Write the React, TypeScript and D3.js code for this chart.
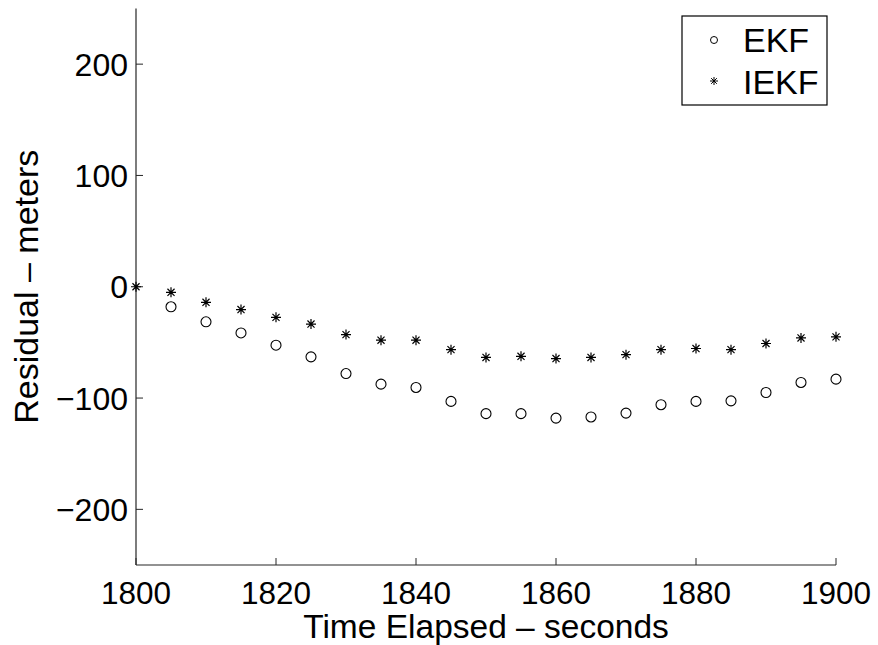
import React from "react";
import * as d3 from "d3";

const timesEKF = [1805, 1810, 1815, 1820, 1825, 1830, 1835, 1840, 1845, 1850, 1855, 1860, 1865, 1870, 1875, 1880, 1885, 1890, 1895, 1900];
const ekf = [-18, -31.5, -41.5, -52.5, -63, -78, -87.5, -90.5, -103, -114, -114, -118, -117, -113.5, -106, -103, -102.5, -95, -86, -83];
const timesIEKF = [1800, 1805, 1810, 1815, 1820, 1825, 1830, 1835, 1840, 1845, 1850, 1855, 1860, 1865, 1870, 1875, 1880, 1885, 1890, 1895, 1900];
const iekf = [0, -5, -14, -20.5, -27.5, -33.5, -43, -48, -48, -56.5, -63.5, -62.5, -64.5, -63.5, -61, -56.5, -55.5, -56.5, -51, -46, -45];
const xTicks = [1800, 1820, 1840, 1860, 1880, 1900];
const yTicks = [-200, -100, 0, 100, 200];
const legendLabels = ["EKF", "IEKF"];

const W = 878;
const H = 645;
const FONT = "'Liberation Sans', Arial, Helvetica, sans-serif";

const starPath = (s: number) => {
  const d = s * 0.7071;
  return `M${-s},0H${s}M0,${-s}V${s}M${-d},${-d}L${d},${d}M${-d},${d}L${d},${-d}`;
};

export default function App() {
  const x = d3.scaleLinear().domain([1800, 1900]).range([136, 836]);
  const y = d3.scaleLinear().domain([-250, 250]).range([565, 8.5]);
  const tickLen = 7;
  const axisColor = "#262626";

  return (
    <svg
      width={W}
      height={H}
      style={{ position: "absolute", left: 0, top: 0, background: "#fff" }}
      fontFamily={FONT}
    >
      <rect x={0} y={0} width={W} height={H} fill="#fff" />
      {/* axes */}
      <line x1={x(1800)} x2={x(1900)} y1={y(-250)} y2={y(-250)} stroke={axisColor} strokeWidth={1.2} />
      <line x1={x(1800)} x2={x(1800)} y1={y(-250)} y2={y(250)} stroke={axisColor} strokeWidth={1.2} />
      {xTicks.map((t) => (
        <g key={"xt" + t}>
          <line x1={x(t)} x2={x(t)} y1={y(-250)} y2={y(-250) - tickLen} stroke={axisColor} strokeWidth={1} />
          <text x={x(t)} y={604} textAnchor="middle" fontSize={31.5} fill="#000">
            {t}
          </text>
        </g>
      ))}
      {yTicks.map((t) => (
        <g key={"yt" + t}>
          <line x1={x(1800)} x2={x(1800) + tickLen} y1={y(t)} y2={y(t)} stroke={axisColor} strokeWidth={1} />
          <text x={128} y={y(t)} dy="0.36em" textAnchor="end" fontSize={32} fill="#000">
            {t < 0 ? "\u2212" + Math.abs(t) : String(t)}
          </text>
        </g>
      ))}
      {/* axis labels */}
      <text x={(x(1800) + x(1900)) / 2} y={637.5} textAnchor="middle" fontSize={33.5} fill="#000">
        Time Elapsed – seconds
      </text>
      <text
        transform={`translate(38,${(y(-250) + y(250)) / 2}) rotate(-90)`}
        textAnchor="middle"
        fontSize={34}
        fill="#000"
      >
        Residual – meters
      </text>
      {/* data */}
      {timesEKF.map((t, i) => (
        <circle key={"e" + i} cx={x(t)} cy={y(ekf[i])} r={5} fill="none" stroke="#000" strokeWidth={1.1} />
      ))}
      {timesIEKF.map((t, i) => (
        <path
          key={"i" + i}
          d={starPath(5)}
          transform={`translate(${x(t)},${y(iekf[i])})`}
          fill="none"
          stroke="#000"
          strokeWidth={1.2}
        />
      ))}
      {/* legend */}
      <rect x={682} y={16} width={145} height={89} fill="#fff" stroke="#000" strokeWidth={1.2} />
      <circle cx={714} cy={40} r={3.5} fill="none" stroke="#000" strokeWidth={1} />
      <path d={starPath(4)} transform="translate(714,81)" fill="none" stroke="#000" strokeWidth={1} />
      {legendLabels.map((l, i) => (
        <text key={l} x={743} y={52 + i * 41.5} fontSize={34} fill="#000">
          {l}
        </text>
      ))}
    </svg>
  );
}
